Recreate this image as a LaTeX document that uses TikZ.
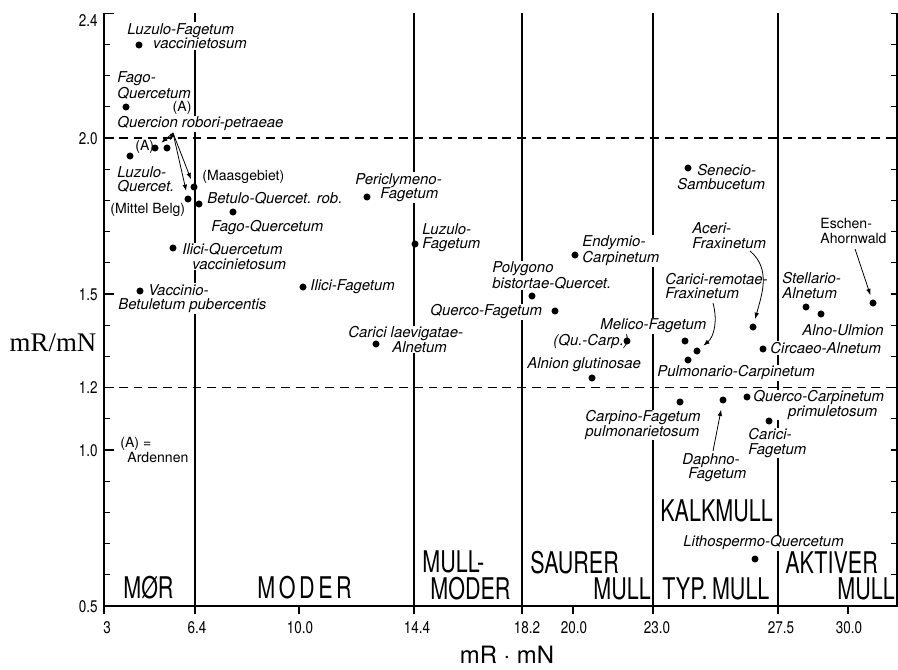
\documentclass[tikz,border=0pt]{standalone}
\usepackage{fontspec}
\setmainfont{TeX Gyre Heros}
\newfontfamily\serifax{Liberation Serif}
\newfontfamily\soilfam[FakeStretch=0.72]{TeX Gyre Heros}
\newfontfamily\soilspaced[FakeStretch=0.72,LetterSpace=12]{TeX Gyre Heros}
\newfontfamily\tickfam[FakeStretch=0.8]{TeX Gyre Heros}
\usetikzlibrary{arrows.meta}
\tikzset{
x=0.02cm, y=-0.02cm,
sample/.style={circle,fill=black,inner sep=0pt,minimum size=4pt},
plant/.style={anchor=west,align=left,fill=white,inner sep=0.6pt,font=\itshape\fontsize{8.5}{8.2}\selectfont},
areatag/.style={plant,font=\fontsize{8}{8.2}\selectfont},
soil/.style={anchor=west,inner sep=0pt,font=\soilfam\fontsize{17}{17}\selectfont},
scalelbl/.style={inner sep=0pt,font=\tickfam\fontsize{9.6}{10}\selectfont},
zone/.style={line width=0.8pt},
limit/.style={line width=0.8pt,dash pattern=on 5pt off 3.4pt},
pointer/.style={-{Latex[length=3.6pt,width=2.6pt]},line width=0.45pt,shorten >=2.5pt},
}
\tikzstyle{scaletick} = [line width=0.6pt]

\begin{document}
\begin{tikzpicture}
\useasboundingbox (0,0) rectangle (898,669);
\draw[zone] (104,13) -- (104,614);
\draw[zone] (104,606) -- (898,606);
\draw[zone] (897,13) -- (897,606);
\foreach \k in {0,...,19} {
  \draw[scaletick] (104,{606-31.2*\k}) -- ++(6,0);
  \draw[scaletick] (897,{606-31.2*\k}) -- ++(-6,0);
}
\foreach \k in {0,5,7,10,15,19}
  \draw[scaletick] (104,{606-31.2*\k}) -- ++(10,0);
\draw[limit] (104,138) -- (897,138);
\draw[limit] (104,387.6) -- (897,387.6);
\foreach \x in {195,414,522,653,778}
  \draw[zone] (\x,13) -- (\x,614);
\foreach \x in {299,573,848}
  \draw[zone] (\x,606) -- (\x,614);

\foreach \v/\x [count=\i] in {3/107,6.4/197,10.0/300,14.4/417,18.2/527,20.0/574,23.0/657,27.5/781,30.0/849}
  \node[scalelbl] (xl\i) at (\x,628) {\v};
\foreach \v/\y [count=\i] in {2.4/21,2.0/139,1.5/295,1.2/388,1.0/451,0.5/607}
  \node[scalelbl,anchor=east] (yl\i) at (98,\y) {\v};
\node[inner sep=0pt,font=\serifax\fontsize{15.3}{16}\selectfont] (ytitle) at (53,343) {mR/mN};
\node[inner sep=0pt,font=\fontsize{13.6}{14}\selectfont] (xtitle) at (507,655) {mR · mN};

\node[soil] (mor) at (123,588) {MØR};
\node[soil,font=\soilspaced\fontsize{17}{17}\selectfont] (moder) at (257,588) {MODER};
\node[soil] (mullmod) at (422,562) {MULL-};
\node[soil] (modermull) at (430,589) {MODER};
\node[soil] (saurer) at (530,563) {SAURER};
\node[soil] (saurermull) at (593,589) {MULL};
\node[soil] (typmull) at (662,589) {TYP.\hspace{2.5pt}MULL};
\node[soil] (kalkmull) at (660,511) {KALKMULL};
\node[soil] (aktiver) at (785,563) {AKTIVER};
\node[soil] (aktivmull) at (837,589) {MULL};

\node[plant] (lfvL) at (126,36) {Luzulo-Fagetum\\\hspace*{14.7pt}vaccinietosum};
\node[plant] (fq1L) at (116,85.5) {Fago-\\Quercetum};
\node[areatag,inner sep=0.2pt] (a1L) at (172,108) {(A)};
\node[plant] (qrpL) at (116,124) {Quercion robori-petraeae};
\node[areatag] (a2L) at (134,147) {(A)};
\node[plant] (lqL) at (116,179.5) {Luzulo-\\Quercet.};
\node[areatag] (maasL) at (201,177) {(Maasgebiet)};
\node[areatag] (mbelgL) at (109,210) {(Mittel Belg)};
\node[plant] (bqrL) at (206,198) {Betulo-Quercet. rob.};
\node[plant] (fq2L) at (210,228) {Fago-Quercetum};
\node[plant] (iqvL) at (181,256.5) {Ilici-Quercetum\\\hspace*{5.7pt}vaccinietosum};
\node[plant] (vbpL) at (117,298.5) {\hspace*{17pt}Vaccinio-\\Betuletum pubercentis};
\node[areatag] (ardL) at (119,450) {(A) =\\\hspace*{4pt}Ardennen};
\node[plant] (pfL) at (354,187.5) {Periclymeno-\\\hspace*{14.2pt}Fagetum};
\node[plant] (lfL) at (421,237.5) {Luzulo-\\Fagetum};
\node[plant] (ifL) at (309,287) {Ilici-Fagetum};
\node[plant] (claL) at (347,339.5) {Carici laevigatae-\\\hspace*{25pt}Alnetum};
\node[plant] (pbqL) at (491,275.5) {Polygono\\bistortae-Quercet.};
\node[plant] (qfL) at (429,312) {Querco-Fagetum};
\node[plant] (ecL) at (581,251) {Endymio-\\Carpinetum};
\node[plant] (qucL) at (552,342) {(Qu.-Carp.)};
\node[plant] (agL) at (526,365) {Alnion glutinosae};
\node[plant] (ssL) at (676,177) {\hspace*{11.3pt}Senecio-\\Sambucetum};
\node[plant] (afL) at (691,235.5) {Aceri-\\Fraxinetum};
\node[plant] (crfL) at (664,286) {Carici-remotae-\\Fraxinetum};
\node[plant] (mfL) at (599,326) {Melico-Fagetum};
\node[plant] (pcL) at (656,373) {Pulmonario-Carpinetum};
\node[plant] (caL) at (769,348) {Circaeo-Alnetum};
\node[plant] (saL) at (781,285.5) {Stellario-\\Alnetum};
\node[plant] (auL) at (801,330) {Alno-Ulmion};
\node[areatag] (eaL) at (819,231) {Eschen-\\Ahornwald};
\node[plant] (qcpL) at (752,405) {Querco-Carpinetum\\\hspace*{19.8pt}primuletosum};
\node[plant] (cfpL) at (584,425) {Carpino-Fagetum\\pulmonarietosum};
\node[plant] (cfL) at (747,443) {Carici-\\Fagetum};
\node[plant] (dfL) at (681,467.5) {Daphno-\\\hspace*{3.4pt}Fagetum};
\node[plant] (lithL) at (682,543) {Lithospermo-Quercetum};

\node[sample] (lfv) at (139,45) {};
\node[sample] (fq1) at (126,107) {};
\node[sample] (lq) at (130,156) {};
\node[sample] (qa1) at (155,148) {};
\node[sample] (qa2) at (167,148) {};
\node[sample] (maas) at (194,187) {};
\node[sample] (mbelg) at (188,199) {};
\node[sample] (bqr) at (199,204) {};
\node[sample] (fq2) at (233,212) {};
\node[sample] (iqv) at (173,248) {};
\node[sample] (vbp) at (140,291) {};
\node[sample] (pf) at (367,197) {};
\node[sample] (lf) at (415,244) {};
\node[sample] (if) at (303,287) {};
\node[sample] (cla) at (376,344) {};
\node[sample] (pbq) at (532,296) {};
\node[sample] (qf) at (555,311) {};
\node[sample] (ec) at (575,255) {};
\node[sample] (quc) at (627,341) {};
\node[sample] (ag) at (592,378) {};
\node[sample] (ss) at (688,168) {};
\node[sample] (af) at (753,327) {};
\node[sample] (mf) at (685,341) {};
\node[sample] (crf) at (697,351) {};
\node[sample] (pc) at (688,360) {};
\node[sample] (ca) at (763,349) {};
\node[sample] (sa) at (806,307) {};
\node[sample] (au) at (821,314) {};
\node[sample] (ea) at (873,303) {};
\node[sample] (cfp) at (680,402) {};
\node[sample] (df) at (723,400) {};
\node[sample] (qcp) at (747,397) {};
\node[sample] (cf) at (769,421) {};
\node[sample] (lith) at (755,559) {};

\coordinate (qrpTail) at (173,133);
\coordinate (afTail) at (750,251);
\coordinate (crfTail) at (713,303);
\coordinate (eaTail) at (855,249);
\coordinate (dfTail) at (713,451);
\foreach \t in {qa1,qa2,maas,mbelg}
  \draw[pointer] (qrpTail) -- (\t);
\draw[pointer] (afTail) to[out=-40,in=75] (af);
\draw[pointer] (crfTail) to[out=-75,in=40] (crf);
\draw[pointer] (eaTail) -- (ea);
\draw[pointer,shorten >=3.4pt] (dfTail) -- (df);
\end{tikzpicture}
\end{document}
